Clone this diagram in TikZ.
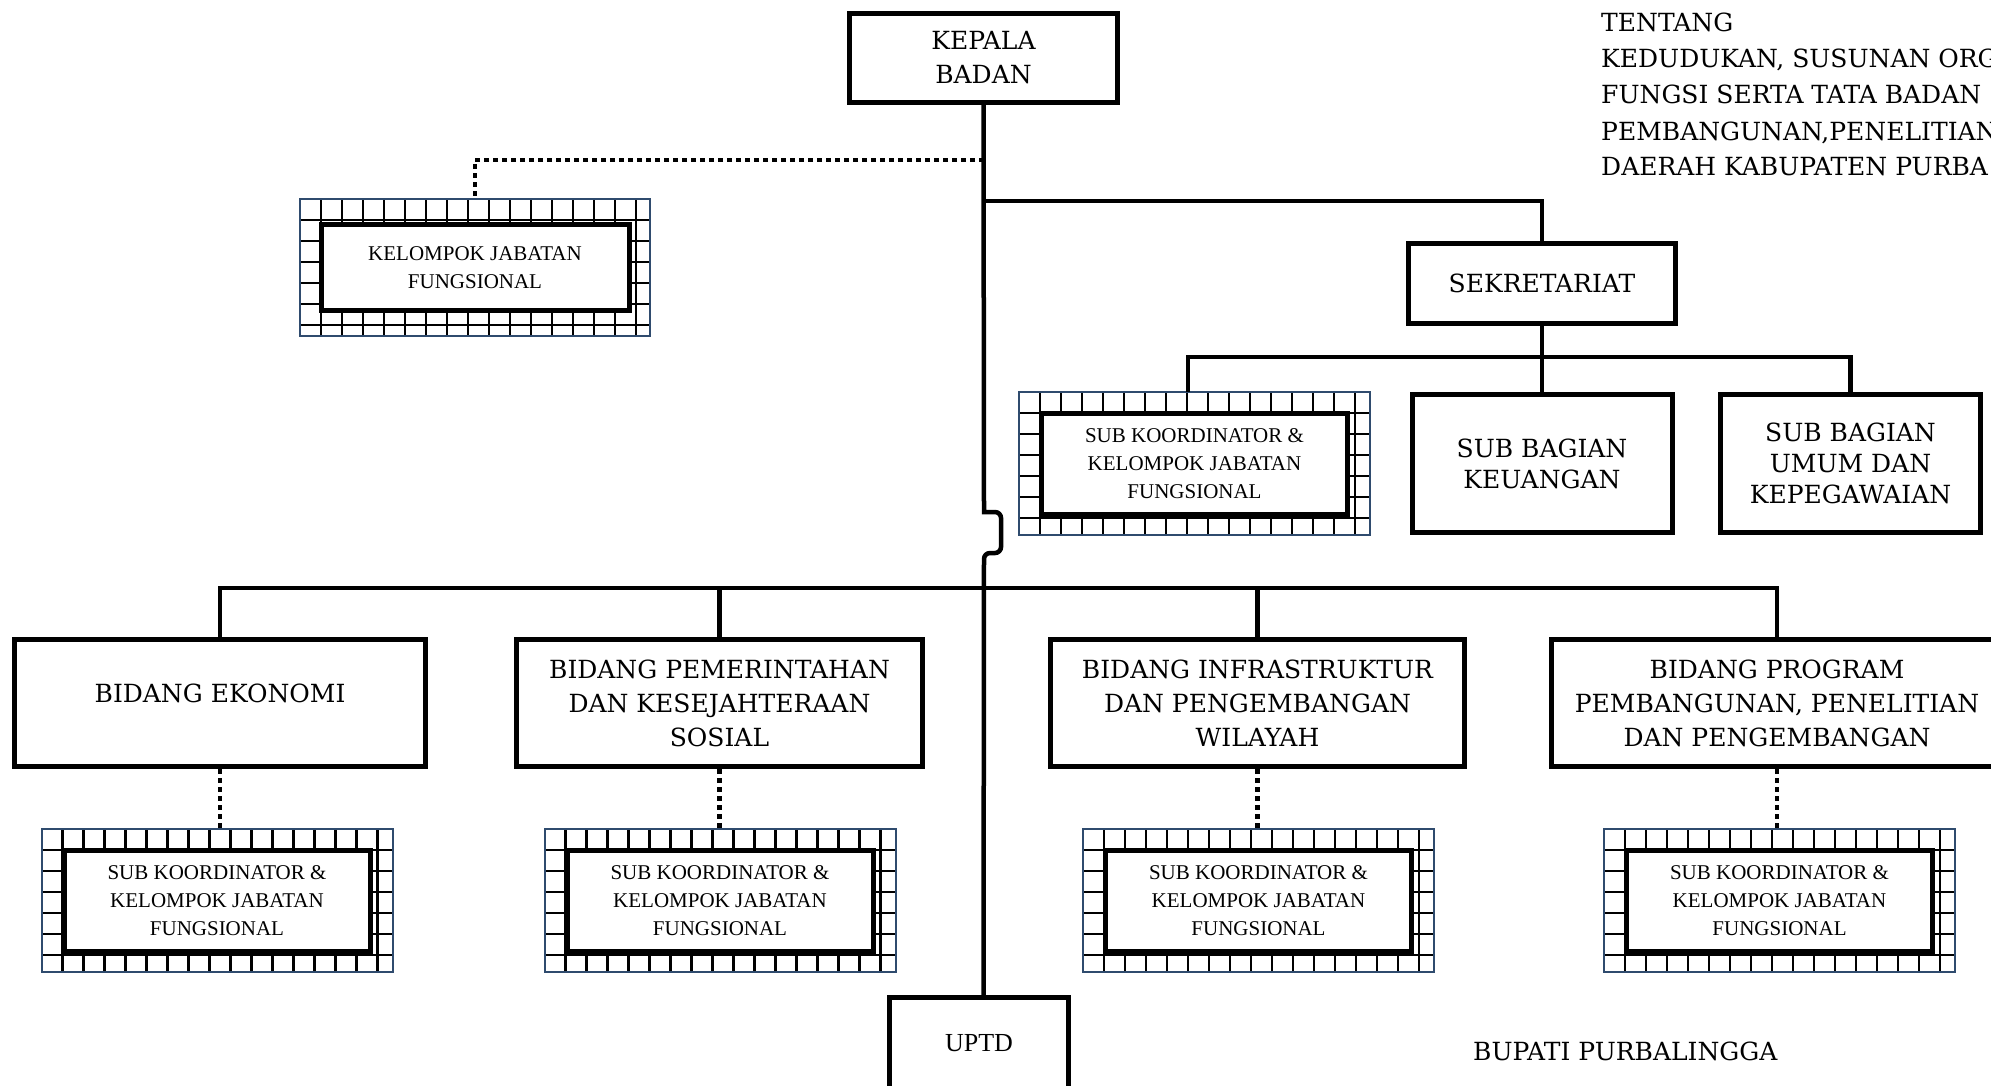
\documentclass[tikz,border=0pt]{standalone}
\usepackage{fontspec}
\setmainfont{DejaVu Serif}
\newfontfamily\timesf{Liberation Serif}
\definecolor{navy}{HTML}{2F4B6E}
\tikzset{
 mainbox/.style={draw=black, line width=5pt, fill=white, align=center, font=\fontsize{25}{34}\selectfont, inner sep=0pt},
 conn/.style={line width=4.5pt},
 dotconn/.style={line width=4.5pt, dash pattern=on 5pt off 4pt},
 outerbox/.style={draw=none, minimum width=351pt, minimum height=143pt, inner sep=0pt, outer sep=0pt},
 innerbox/.style={draw=black, line width=5pt, fill=white, minimum width=306pt, minimum height=101pt, align=center, font=\timesf\fontsize{21}{28}\selectfont, inner sep=0pt},
 gridline/.style={line width=2.4pt},
 edgeline/.style={draw=navy, line width=2pt},
 plaintext/.style={font=\fontsize{25}{34}\selectfont, inner sep=0pt, anchor=base west},
}
\newcommand\gridbox[6]{%
  \node[outerbox,#5] (#1) at (#2,#3) {};
  \begin{scope}
    \clip (#1.south west) rectangle (#1.north east);
    \foreach \k in {0,...,17} {\draw[gridline] ([xshift=\k*21pt]#1.north west) -- ([xshift=\k*21pt]#1.south west);}
    \foreach \k in {0,...,7} {\draw[gridline] ([yshift=-\k*21pt]#1.north west) -- ([yshift=-\k*21pt]#1.north east);}
  \end{scope}
  \draw[edgeline] (#1.south west) rectangle (#1.north east);
  \node[innerbox,#6] (#1-in) at (#2,#3) {#4};
}
\begin{document}
\begin{tikzpicture}[x=1pt,y=-1pt]
\useasboundingbox[fill=white] (0,0) rectangle (1991,1085);

% top
\node[mainbox, minimum width=268pt, minimum height=89pt] (kepala) at (983.5,58) {KEPALA\\BADAN};
\gridbox{kjf}{475}{267.5}{KELOMPOK JABATAN\\FUNGSIONAL}{minimum width=350pt, minimum height=137pt}{minimum width=308pt, minimum height=86pt}

% sekretariat
\node[mainbox, minimum width=267pt, minimum height=80pt] (sek) at (1542,283.5) {SEKRETARIAT};
\gridbox{sks}{1194.5}{463.5}{SUB KOORDINATOR \&\\KELOMPOK JABATAN\\FUNGSIONAL}{}{}
\node[mainbox, minimum width=260pt, minimum height=138pt, font=\fontsize{25}{31}\selectfont] (keu) at (1542,463.5) {SUB BAGIAN\\KEUANGAN};
\node[mainbox, minimum width=260pt, minimum height=138pt, font=\fontsize{25}{31}\selectfont] (umum) at (1850.5,463.5) {SUB BAGIAN\\UMUM DAN\\KEPEGAWAIAN};

% bidang
\node[mainbox, minimum width=411pt, minimum height=127pt, label={[font=\fontsize{25}{34}\selectfont, yshift=10pt]center:BIDANG EKONOMI}] (eko) at (220,703) {};
\node[mainbox, minimum width=406pt, minimum height=127pt] (pem) at (719.5,703) {BIDANG PEMERINTAHAN\\DAN KESEJAHTERAAN\\SOSIAL};
\node[mainbox, minimum width=414pt, minimum height=127pt] (inf) at (1257.5,703) {BIDANG INFRASTRUKTUR\\DAN PENGEMBANGAN\\WILAYAH};
\node[mainbox, minimum width=451pt, minimum height=127pt] (prog) at (1777,703) {BIDANG PROGRAM\\PEMBANGUNAN, PENELITIAN\\DAN PENGEMBANGAN};

\gridbox{ske}{217}{900.5}{SUB KOORDINATOR \&\\KELOMPOK JABATAN\\FUNGSIONAL}{}{}
\gridbox{skp}{720}{900.5}{SUB KOORDINATOR \&\\KELOMPOK JABATAN\\FUNGSIONAL}{}{}
\gridbox{ski}{1258.5}{900.5}{SUB KOORDINATOR \&\\KELOMPOK JABATAN\\FUNGSIONAL}{}{}
\gridbox{skg}{1779.5}{900.5}{SUB KOORDINATOR \&\\KELOMPOK JABATAN\\FUNGSIONAL}{}{}

% uptd
\node[mainbox, font=\timesf\fontsize{26}{30}\selectfont, minimum width=179pt, minimum height=91pt] (uptd) at (979,1043) {UPTD};

% coordinates
\coordinate (jdot) at (984,160);
\coordinate (jsek) at (984,201);
\coordinate (sbus) at (1542,357);
\coordinate (bbus) at (984,588);

% connectors
\draw[conn] (kepala.south) -- (984,512) [rounded corners=6pt] -- (1001,512) -- (1001,553) -- (984,553) [sharp corners] -- (kepala.south |- uptd.north);
\draw[dotconn] (jdot) -| (kjf.north);
\draw[conn] (jsek) -| (sek.north);
\draw[conn] (sek.south) -- (sbus);
\draw[conn] ([xshift=-6.5pt]sks.north) |- (sbus) -| (umum.north);
\draw[conn] (sbus) -- (keu.north);
\draw[conn] (eko.north) |- (bbus) -| (prog.north);
\draw[conn] (pem.north) -- (pem.north |- bbus);
\draw[conn] (inf.north) -- (inf.north |- bbus);
\draw[dotconn] (eko.south) -- (eko.south |- ske.north);
\draw[dotconn] (pem.south) -- (pem.south |- skp.north);
\draw[dotconn] (inf.south) -- (inf.south |- ski.north);
\draw[dotconn] (prog.south) -- (prog.south |- skg.north);

% texts
\node[plaintext] (t1) at (1601,31) {TENTANG};
\node[plaintext] (t2) at (1601,67) {KEDUDUKAN, SUSUNAN ORG};
\node[plaintext] (t3) at (1601,103) {FUNGSI SERTA TATA BADAN};
\node[plaintext] (t4) at (1601,140) {PEMBANGUNAN,PENELITIAN};
\node[plaintext] (t5) at (1601,175) {DAERAH KABUPATEN PURBA};
\node[plaintext] (bupati) at (1473,1060) {BUPATI PURBALINGGA};
\end{tikzpicture}
\end{document}
